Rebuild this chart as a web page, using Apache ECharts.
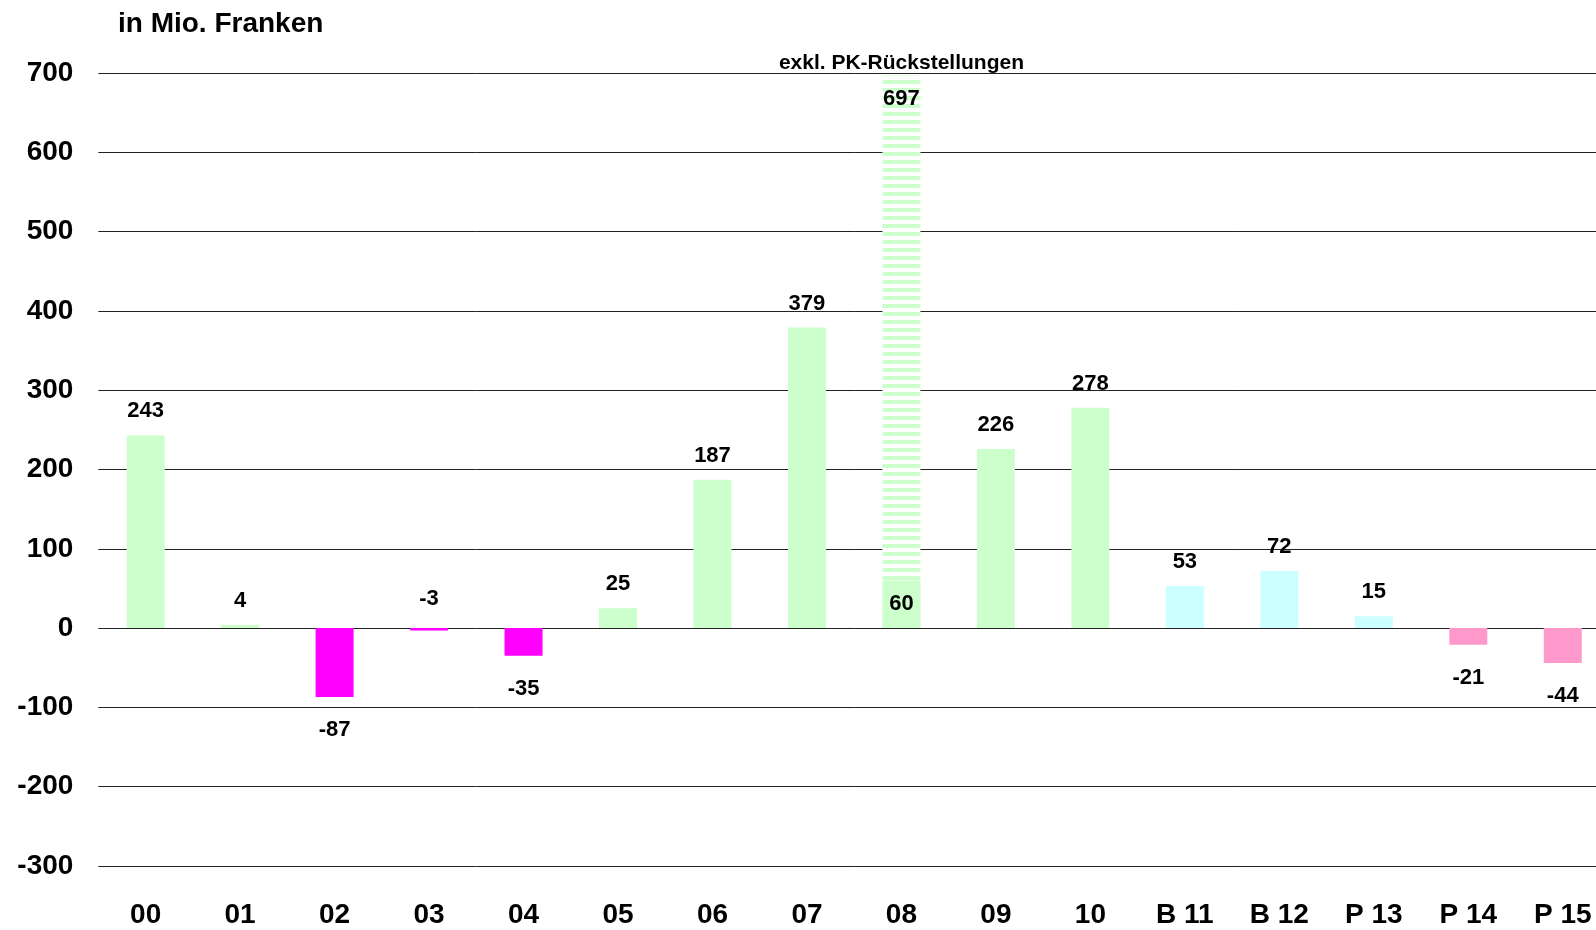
<!DOCTYPE html>
<html>
<head>
<meta charset="utf-8">
<script src="https://cdn.jsdelivr.net/npm/echarts@6/dist/echarts.min.js"></script>
<style>
html,body{margin:0;padding:0;background:#fff;overflow:hidden;width:1596px;height:930px;}
#c{width:1610px;height:930px;}
</style>
</head>
<body>
<div id="c"></div>
<script>
var categories = ['00','01','02','03','04','05','06','07','08','09','10','B 11','B 12','P 13','P 14','P 15'];
var values = [243, 4, -87, -3, -35, 25, 187, 379, 60, 226, 278, 53, 72, 15, -21, -44];
var exklPK = [null, null, null, null, null, null, null, null, 697, null, null, null, null, null, null, null];
var colorGroups = ['g','g','m','m','m','g','g','g','g','g','g','c','c','c','p','p'];
var yTicks = {min: -300, max: 700, interval: 100};
var unitTitle = 'in Mio. Franken';
var noteText = 'exkl. PK-Rückstellungen';

var palette = {g: '#ccffcc', m: '#ff00ff', c: '#ccffff', p: '#ff99cc'};
var FONT = '"Liberation Sans", Arial, Helvetica, sans-serif';

var pc = document.createElement('canvas');
pc.width = 8; pc.height = 8;
var pctx = pc.getContext('2d');
pctx.fillStyle = '#ffffff'; pctx.fillRect(0,0,8,8);
pctx.fillStyle = '#ccffcc'; pctx.fillRect(0,0,8,4);

var mainData = values.map(function(v, i){
  var pos, dist;
  if (i === 8) { pos = 'inside'; dist = 0; }
  else if (v >= 0) { pos = 'top'; dist = 13; }
  else if (Math.abs(v) < 10) { pos = 'top'; dist = 18; }
  else { pos = 'bottom'; dist = 22; }
  return {
    value: v,
    itemStyle: {color: palette[colorGroups[i]]},
    label: {position: pos, distance: dist}
  };
});

var stripeData = exklPK.map(function(v){
  return v == null ? '-' : {value: v};
});

var chart = echarts.init(document.getElementById('c'), null, {renderer: 'canvas'});
chart.setOption({
  animation: false,
  backgroundColor: '#ffffff',
  textStyle: {fontFamily: FONT},
  title: {
    text: unitTitle, left: 113, top: 5,
    textStyle: {fontFamily: FONT, fontSize: 28, fontWeight: 'bold', color: '#000'}
  },
  grid: {left: 98.4, right: 0, top: 73, bottom: 64, containLabel: false},
  xAxis: {
    type: 'category', data: categories,
    axisLine: {show: false, onZero: false},
    axisTick: {show: false},
    axisLabel: {fontFamily: FONT, fontSize: 28, fontWeight: 'bold', color: '#000', margin: 35, interval: 0}
  },
  yAxis: {
    type: 'value', min: yTicks.min, max: yTicks.max, interval: yTicks.interval,
    axisLine: {show: false}, axisTick: {show: false},
    axisLabel: {fontFamily: FONT, fontSize: 28, fontWeight: 'bold', color: '#000', margin: 25},
    splitLine: {lineStyle: {color: '#222', width: 1}}
  },
  series: [
    {
      type: 'bar', name: 'exkl', data: stripeData, barWidth: 38, barGap: '-100%', z: 2,
      itemStyle: {color: {image: pc, repeat: 'repeat'}},
      label: {show: true, position: 'insideTop', distance: 13, fontFamily: FONT, fontSize: 22, fontWeight: 'bold', color: '#000'}
    },
    {
      type: 'bar', name: 'main', data: mainData, barWidth: 38, barGap: '-100%', z: 3,
      label: {show: true, fontFamily: FONT, fontSize: 22, fontWeight: 'bold', color: '#000'}
    }
  ]
});

var p = chart.convertToPixel({xAxisIndex: 0, yAxisIndex: 0}, [categories[8], exklPK[8]]);
chart.setOption({
  graphic: [{
    type: 'text', x: p[0], y: 63,
    style: {text: noteText, fontFamily: FONT, fontSize: 21, fontWeight: 'bold', fill: '#000', align: 'center', verticalAlign: 'middle'}
  }]
});
</script>
</body>
</html>
